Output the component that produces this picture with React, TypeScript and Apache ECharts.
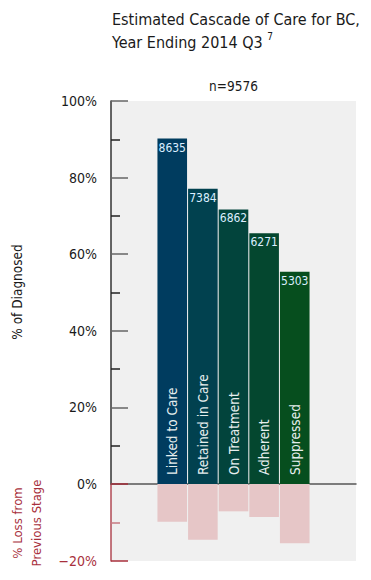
import React, { useEffect, useRef } from "react";
import * as echarts from "echarts";

const stages = ["Linked to Care", "Retained in Care", "On Treatment", "Adherent", "Suppressed"];
const counts = [8635, 7384, 6862, 6271, 5303];
const pctDiagnosed = [90.2, 77.1, 71.7, 65.5, 55.4];
const pctLoss = [9.8, 14.5, 7.1, 8.6, 15.4];
const barColors = ["#003c5f", "#01414f", "#02443c", "#04472f", "#064e1e"];
const positions = [2, 3, 4, 5, 6];
const totalN = 9576;

const FONT = "'DejaVu Sans Condensed', 'Liberation Sans Narrow', sans-serif";
const RED = "#a8303c";

export default function App() {
  const ref = useRef<HTMLDivElement>(null);
  useEffect(() => {
    if (!ref.current) return;
    const chart = echarts.init(ref.current, null, { renderer: "svg" });
    const barW = 29.6;
    const option: any = {
      animation: false,
      backgroundColor: "#ffffff",
      textStyle: { fontFamily: FONT },
      title: {
        left: 112,
        top: 8,
        padding: 0,
        text: "Estimated Cascade of Care for BC,\nYear Ending 2014 Q3 {sup|7}",
        textStyle: {
          fontFamily: FONT,
          fontSize: 16,
          fontWeight: "normal",
          color: "#1a1a1a",
          lineHeight: 23,
          rich: {
            sup: { fontFamily: FONT, fontSize: 10, color: "#1a1a1a", verticalAlign: "top", padding: [0, 0, 8, 0] },
          },
        },
      },
      grid: [
        { left: 111, top: 101, width: 245, height: 383, show: true, backgroundColor: "#f0f0f0", borderWidth: 0 },
        { left: 111, top: 484, width: 245, height: 77, show: true, backgroundColor: "#f0f0f0", borderWidth: 0 },
      ],
      xAxis: [
        {
          gridIndex: 0,
          type: "value",
          min: 0,
          max: 8,
          axisLine: { show: true, onZero: true, lineStyle: { color: "#555", width: 1.5 } },
          axisTick: { show: false },
          axisLabel: { show: false },
          splitLine: { show: false },
        },
        {
          gridIndex: 1,
          type: "value",
          min: 0,
          max: 8,
          axisLine: { show: false },
          axisTick: { show: false },
          axisLabel: { show: false },
          splitLine: { show: false },
        },
      ],
      yAxis: [
        {
          gridIndex: 0,
          type: "value",
          min: 0,
          max: 100,
          interval: 20,
          axisLine: { show: true, lineStyle: { color: "#333", width: 1.5 } },
          axisTick: { show: true, inside: true, length: 17, lineStyle: { color: "#666", width: 1.5 } },
          minorTick: { show: true, splitNumber: 2, length: 9, lineStyle: { color: "#222", width: 1.5 } },
          axisLabel: {
            formatter: (v: number) => v + "%",
            fontFamily: FONT,
            fontSize: 14,
            color: "#1a1a1a",
            margin: 14,
          },
          splitLine: { show: false },
        },
        {
          gridIndex: 1,
          type: "value",
          min: -20,
          max: 0,
          interval: 20,
          axisLine: { show: true, lineStyle: { color: "#b04a55", width: 1.5 } },
          axisTick: { show: true, inside: true, length: 17, lineStyle: { color: "#a8303c", width: 1.5 } },
          minorTick: { show: true, splitNumber: 2, length: 9, lineStyle: { color: "#c77a82", width: 1.5 } },
          axisLabel: {
            formatter: (v: number) => (v < 0 ? "\u2212" + Math.abs(v) + "%" : ""),
            fontFamily: FONT,
            fontSize: 14,
            color: RED,
            margin: 14,
          },
          splitLine: { show: false },
        },
      ],
      series: [
        {
          type: "bar",
          xAxisIndex: 0,
          yAxisIndex: 0,
          barWidth: barW,
          barGap: "-100%",
          data: positions.map((p, i) => ({
            value: [p, pctDiagnosed[i]],
            itemStyle: { color: barColors[i] },
          })),
          label: {
            show: true,
            position: "insideTop",
            distance: 3,
            formatter: (params: any) => String(counts[params.dataIndex]),
            fontFamily: FONT,
            fontSize: 12,
            color: "#dbeeff",
          },
        },
        {
          type: "bar",
          xAxisIndex: 0,
          yAxisIndex: 0,
          barWidth: barW,
          barGap: "-100%",
          itemStyle: { color: "rgba(0,0,0,0)" },
          data: positions.map((p, i) => [p, pctDiagnosed[i]]),
          label: {
            show: true,
            position: "insideBottom",
            rotate: 90,
            align: "left",
            verticalAlign: "middle",
            distance: 9,
            formatter: (params: any) => stages[params.dataIndex],
            fontFamily: FONT,
            fontSize: 13.5,
            color: "#e6eeee",
          },
        },
        {
          type: "bar",
          xAxisIndex: 1,
          yAxisIndex: 1,
          barWidth: barW,
          itemStyle: { color: "#e6c6c7" },
          data: positions.map((p, i) => [p, -pctLoss[i]]),
        },
      ],
      graphic: [
        {
          type: "text",
          x: 233.5,
          y: 86,
          style: {
            text: "n=" + totalN,
            fontFamily: FONT,
            fontSize: 13.5,
            fill: "#1a1a1a",
            textAlign: "center",
            textVerticalAlign: "middle",
          },
        },
        {
          type: "text",
          x: 17,
          y: 292,
          rotation: Math.PI / 2,
          style: {
            text: "% of Diagnosed",
            fontFamily: FONT,
            fontSize: 13.5,
            fill: "#1a1a1a",
            textAlign: "center",
            textVerticalAlign: "middle",
          },
        },
        {
          type: "text",
          x: 27,
          y: 523,
          rotation: Math.PI / 2,
          style: {
            text: "% Loss from\nPrevious Stage",
            fontFamily: FONT,
            fontSize: 13,
            lineHeight: 19,
            fill: RED,
            textAlign: "center",
            textVerticalAlign: "middle",
          },
        },
      ],
    };
    chart.setOption(option);
    return () => chart.dispose();
  }, []);
  return (
    <div
      ref={ref}
      style={{ position: "absolute", left: 0, top: 0, width: 371, height: 580 }}
    />
  );
}
